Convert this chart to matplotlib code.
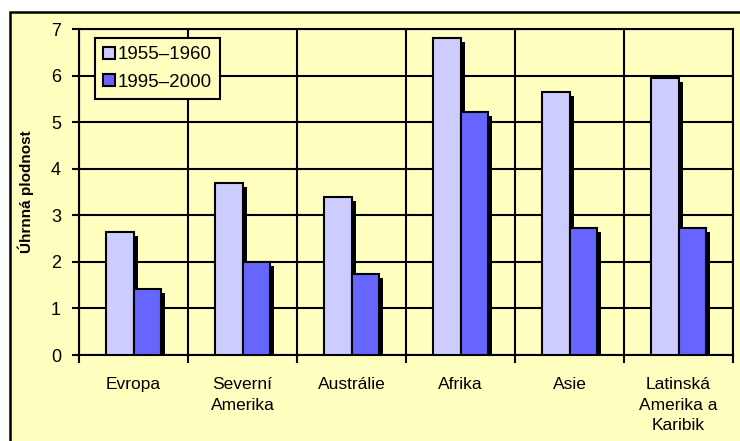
import matplotlib.pyplot as plt
import matplotlib.patheffects as pe
from matplotlib.patches import Rectangle
import numpy as np

plt.rcParams['font.family'] = ['Liberation Sans', 'DejaVu Sans']

categories = ['Evropa', 'Severní\nAmerika', 'Austrálie', 'Afrika', 'Asie',
              'Latinská\nAmerika a\nKaribik']
v_1955 = [2.65, 3.7, 3.4, 6.8, 5.65, 5.95]
v_1995 = [1.42, 2.0, 1.75, 5.22, 2.72, 2.72]
series_names = ['1955–1960', '1995–2000']
yticks = [0, 1, 2, 3, 4, 5, 6, 7]

bg = '#FFFFC0'
c_light = '#CCCCFF'
c_dark = '#6666FF'

fig = plt.figure(figsize=(7.4, 4.41), dpi=100, facecolor='white')
# outer chart frame
fig.patches.append(Rectangle((10 / 740, -0.05), 1.0, 1.05 - 12 / 441,
                             transform=fig.transFigure, facecolor=bg,
                             edgecolor='black', linewidth=1.8, zorder=-5))

ax = fig.add_axes([79 / 740, 1 - 355 / 441, 654 / 740, 326 / 441])
ax.set_facecolor(bg)

x = np.arange(len(categories))
w = 0.25
shadow = [pe.SimplePatchShadow(offset=(3, -3), shadow_rgbFace='black', alpha=1.0), pe.Normal()]
b1 = ax.bar(x - w / 2, v_1955, w, color=c_light, edgecolor='black', linewidth=1.5,
            zorder=3, label=series_names[0])
b2 = ax.bar(x + w / 2, v_1995, w, color=c_dark, edgecolor='black', linewidth=1.5,
            zorder=3, label=series_names[1])
for b in list(b1) + list(b2):
    b.set_path_effects(shadow)

ax.set_xlim(-0.5, len(categories) - 0.5)
ax.set_ylim(0, 7)
ax.set_yticks(yticks)
ax.set_xticks(np.arange(len(categories) + 1) - 0.5, minor=False)
ax.set_xticklabels([])
ax.set_xticks(x, minor=True)
ax.set_xticklabels(categories, minor=True, fontsize=12.5, linespacing=1.45)
ax.tick_params(axis='x', which='minor', length=0, pad=16)
ax.tick_params(axis='x', which='major', length=6, width=1.5, direction='out')
ax.tick_params(axis='y', length=5, width=1.5, labelsize=13, pad=8)

ax.grid(True, which='major', color='black', linewidth=1.5, zorder=1)
ax.set_axisbelow(True)
for s in ax.spines.values():
    s.set_linewidth(1.5)

ax.set_ylabel('Úhrnná plodnost', fontsize=11, fontweight='bold', labelpad=12)

leg = ax.legend(loc='upper left', bbox_to_anchor=(16 / 654, 1 - 9 / 326),
                fontsize=13.5, frameon=True, fancybox=False, handlelength=0.6,
                handleheight=0.6, handletextpad=0.15, borderpad=0.45,
                labelspacing=0.55, borderaxespad=0)
leg.get_frame().set_facecolor(bg)
leg.get_frame().set_edgecolor('black')
leg.get_frame().set_linewidth(1.5)
leg.get_frame().set_alpha(1)
for h in leg.legend_handles:
    h.set_path_effects([])

fig.savefig('out.png', dpi=100, facecolor='white')
